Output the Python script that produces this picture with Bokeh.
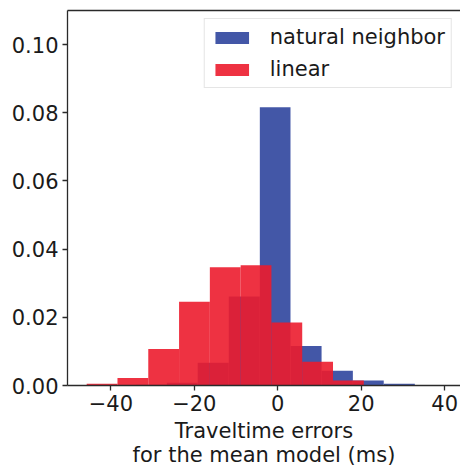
from bokeh.plotting import figure
from bokeh.models import FixedTicker, LinearAxis, Range1d
from bokeh.embed import file_html
from bokeh.resources import INLINE

# Histogram bin edges and densities
nn_edges = [-34.0, -26.6, -19.2, -11.75, -4.3, 3.05, 10.5, 18.0, 25.4, 32.85]
nn_density = [0.0002, 0.0008, 0.0067, 0.0261, 0.0816, 0.0116, 0.0043, 0.0015, 0.0005]

lin_edges = [-45.8, -38.42, -31.04, -23.66, -16.28, -8.9, -1.52, 5.86, 13.24, 20.62]
lin_density = [0.0005, 0.0022, 0.0107, 0.0246, 0.0347, 0.0353, 0.0185, 0.0070, 0.0015]

series_labels = ["natural neighbor", "linear"]
x_ticks = [-40, -20, 0, 20, 40]
x_tick_labels = ["\u221240", "\u221220", "0", "20", "40"]
y_ticks = [0.0, 0.02, 0.04, 0.06, 0.08, 0.10]
y_tick_labels = ["0.00", "0.02", "0.04", "0.06", "0.08", "0.10"]
x_label = "Traveltime errors\nfor the mean model (ms)"

FONT = "DejaVu Sans"
TXT = "#1a1a1a"
AX = "#2a2a2a"

p = figure(width=460, height=469, output_backend="svg", toolbar_location=None,
           x_range=Range1d(-50.4, 43.8), y_range=Range1d(0, 0.11),
           min_border_left=67, min_border_right=0, min_border_top=10, min_border_bottom=2)
p.outline_line_color = None
p.grid.visible = False
p.background_fill_color = "white"
p.border_fill_color = "white"

p.quad(left=nn_edges[:-1], right=nn_edges[1:], top=nn_density, bottom=0,
       fill_color="#4357a7", line_color=None, fill_alpha=1.0,
       legend_label=series_labels[0])
p.quad(left=lin_edges[:-1], right=lin_edges[1:], top=lin_density, bottom=0,
       fill_color=(236, 28, 45), line_color=None, fill_alpha=0.9,
       legend_label=series_labels[1])

for ax in (p.xaxis[0], p.yaxis[0]):
    ax.axis_line_color = AX
    ax.axis_line_width = 1.3
    ax.major_tick_line_color = AX
    ax.major_tick_line_width = 1.3
    ax.major_tick_out = 5
    ax.major_tick_in = 0
    ax.minor_tick_line_color = None
    ax.major_label_text_font = FONT
    ax.major_label_text_font_size = "21px"
    ax.major_label_text_color = TXT
    ax.major_label_standoff = 4

p.xaxis[0].ticker = FixedTicker(ticks=x_ticks)
p.xaxis[0].major_label_overrides = {t: l for t, l in zip(x_ticks, x_tick_labels)}
p.yaxis[0].ticker = FixedTicker(ticks=y_ticks)
p.yaxis[0].major_label_overrides = {t: l for t, l in zip(y_ticks, y_tick_labels)}

p.xaxis[0].axis_label = x_label
p.xaxis[0].axis_label_text_font = FONT
p.xaxis[0].axis_label_text_font_size = "21px"
p.xaxis[0].axis_label_text_font_style = "normal"
p.xaxis[0].axis_label_text_color = TXT
p.xaxis[0].axis_label_text_line_height = 1.0
p.xaxis[0].axis_label_standoff = 5

top = LinearAxis(ticker=FixedTicker(ticks=[]), major_label_text_font_size="0px",
                 axis_line_color=AX, axis_line_width=1.3,
                 major_tick_line_color=None, minor_tick_line_color=None)
p.add_layout(top, "above")

lg = p.legend[0]
lg.location = "top_right"
lg.margin = 8
lg.padding = 6
lg.spacing = 8
lg.label_text_font = FONT
lg.label_text_font_size = "21px"
lg.label_text_color = TXT
lg.label_standoff = 17
lg.label_height = 21
lg.glyph_width = 42
lg.glyph_height = 15
lg.border_line_color = "#cccccc"
lg.border_line_width = 1
lg.background_fill_alpha = 0.8

open("out.html", "w").write(file_html(p, INLINE))
